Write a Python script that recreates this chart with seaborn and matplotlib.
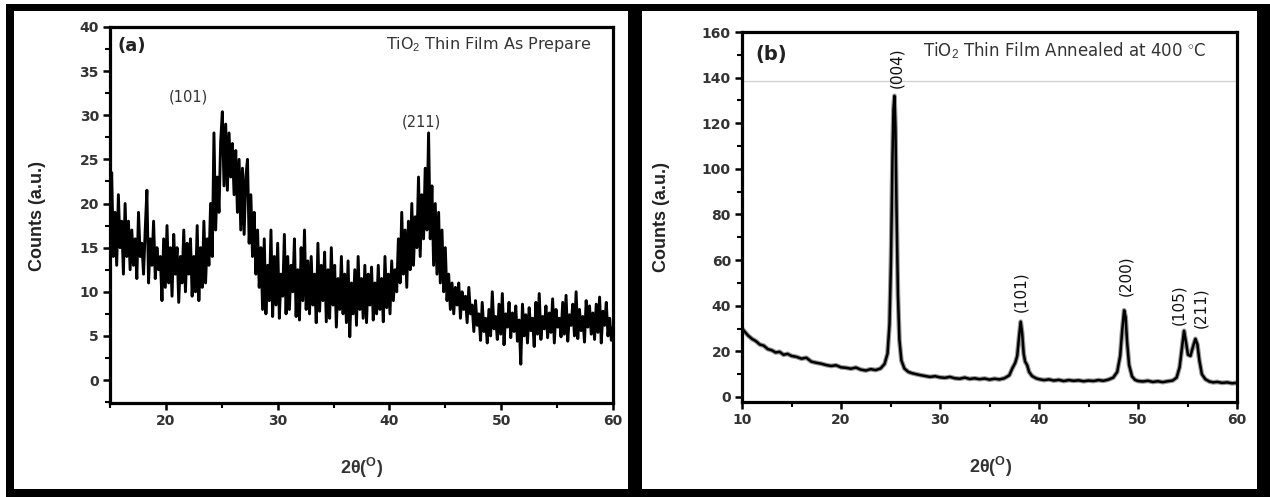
import numpy as np
import matplotlib
matplotlib.use("Agg")
import matplotlib.pyplot as plt
from matplotlib.patches import Rectangle
from matplotlib.ticker import MultipleLocator
import seaborn as sns

sns.set_theme(style="ticks")
plt.rcParams["font.family"] = ["Liberation Sans", "DejaVu Sans"]
plt.rcParams["mathtext.fontset"] = "custom"
plt.rcParams["mathtext.rm"] = "Liberation Sans"
plt.rcParams["mathtext.it"] = "Liberation Sans:italic"
plt.rcParams["mathtext.bf"] = "Liberation Sans:bold"

# ---------------- data: panel (a), as-prepared film (scan step 0.15 deg from 15 deg) ----------------
a_start, a_step = 15.0, 0.15
counts_a = [
    17, 23.5, 14, 19, 13, 21, 15, 18, 12, 20,
    14, 18, 12.5, 17, 13, 16, 11.5, 19, 14, 15.5,
    12, 17, 21.5, 11, 16, 13, 18, 11.5, 15, 12.5,
    14, 9, 16, 10.5, 17.5, 11, 15, 9.5, 16.5, 12,
    15, 8.8, 14, 11, 17, 10, 15.5, 12, 16, 9.5,
    14, 10, 17.5, 9, 15, 10.5, 18, 11, 16, 13,
    20, 14, 28, 17, 23, 19, 27, 30.4, 22, 29,
    21.5, 28, 23, 26.8, 21, 26, 19, 25, 17, 24,
    16.5, 23, 25, 15.5, 21, 14, 19, 12, 17, 10.5,
    15, 8, 16, 7.5, 13, 9, 17, 7.2, 14, 8.5,
    15.5, 7, 12, 9.5, 16.5, 7.5, 14, 8, 13, 10,
    16, 7.2, 12.5, 6.8, 15, 9, 17, 8, 13.5, 7.5,
    14, 8.5, 12, 6.5, 15.5, 7.8, 13, 9, 14.5, 6.6,
    12.5, 7, 15, 8.5, 13, 6, 11.5, 8, 14, 7.5,
    12, 6.5, 13.5, 4.9, 11, 7.5, 12.5, 6.2, 14, 8,
    11.5, 7, 13, 6.5, 12, 8.5, 12.8, 6.8, 11, 7.5,
    13, 8, 11.5, 6.6, 14, 8.2, 12, 7.5, 13.5, 9,
    12.5, 10, 16, 11, 19, 12, 17, 10.5, 18, 12.5,
    20, 13, 18.5, 15, 23, 14, 21, 16, 24, 17,
    28, 16, 22, 13, 20, 12, 19, 11, 17, 10,
    15, 9, 12, 8, 11, 7.5, 10.5, 8.5, 11, 7,
    10, 8, 9.5, 6.5, 10.5, 7.5, 8.5, 5.5, 9, 6.2,
    7.5, 4.5, 8.8, 5.5, 7, 4.2, 8, 5, 10, 5.8,
    7.2, 4.6, 8.6, 5.2, 9.8, 4, 7.5, 6, 8.8, 4.8,
    7.6, 5.5, 8.4, 4.4, 6.8, 1.8, 8.6, 5, 7.4, 4.2,
    8.2, 5.6, 7, 3.8, 8.8, 5.2, 9.8, 4.6, 7.2, 5.8,
    8.4, 4.8, 7.6, 5.4, 9.2, 4.2, 8, 6, 7, 4.9,
    8.8, 5.2, 9.6, 4.4, 7.4, 6.2, 8.6, 5, 10, 4.7,
    8, 5.6, 7.2, 4.3, 9, 6, 8.4, 5.2, 7.6, 4.6,
    8.6, 5.4, 9.4, 4.2, 7.8, 6.2, 8.8, 5, 7, 4.5,
    6,
]
two_theta_a = a_start + a_step * np.arange(len(counts_a))

# ---------------- data: panel (b), annealed film ----------------
two_theta_b = [
    10.0, 10.3, 10.6, 11.0, 11.4, 11.8, 12.2, 12.6, 13.0, 13.4,
    13.8, 14.2, 14.6, 15.0, 15.5, 16.0, 16.5, 17.0, 17.5, 18.0,
    18.5, 19.0, 19.5, 20.0, 20.5, 21.0, 21.5, 22.0, 22.5, 23.0,
    23.5, 24.0, 24.4, 24.7, 24.9, 25.05, 25.2, 25.3, 25.4, 25.5,
    25.6, 25.75, 25.9, 26.1, 26.4, 26.8, 27.2, 27.6, 28.0, 28.5,
    29.0, 29.5, 30.0, 30.5, 31.0, 31.5, 32.0, 32.5, 33.0, 33.5,
    34.0, 34.5, 35.0, 35.5, 36.0, 36.5, 37.0, 37.3, 37.6, 37.8,
    38.0, 38.15, 38.3, 38.45, 38.6, 38.8, 39.0, 39.3, 39.7, 40.0,
    40.5, 41.0, 41.5, 42.0, 42.5, 43.0, 43.5, 44.0, 44.5, 45.0,
    45.5, 46.0, 46.5, 47.0, 47.5, 47.9, 48.2, 48.4, 48.6, 48.75,
    48.9, 49.1, 49.4, 49.7, 50.0, 50.5, 51.0, 51.5, 52.0, 52.5,
    53.0, 53.5, 53.9, 54.2, 54.45, 54.65, 54.85, 55.05, 55.3, 55.55,
    55.8, 56.0, 56.2, 56.45, 56.8, 57.2, 57.6, 58.0, 58.5, 59.0,
    59.5, 60.0,
]
counts_b = [
    30, 28.5, 27, 25.5, 24.5, 23, 22.5, 21, 20.5, 19.5,
    19.8, 18.5, 18.9, 18, 17.6, 16.8, 17.2, 15.5, 15.0, 14.6,
    14.0, 13.6, 13.9, 13.0, 12.8, 12.4, 12.9, 12.0, 11.6, 12.2,
    11.8, 12.5, 14.5, 19, 32, 60, 105, 126, 132, 118,
    85, 45, 25, 16, 12.5, 11, 10.4, 10, 9.6, 9.2,
    8.8, 9.1, 8.6, 8.4, 8.8, 8.2, 8.0, 8.5, 7.9, 8.2,
    7.8, 8.1, 7.6, 8.0, 7.7, 8.2, 9.5, 12.5, 15, 18,
    27, 33, 28, 19, 15.5, 14, 11, 9.2, 8.2, 7.8,
    7.4, 7.7, 7.2, 7.5, 7.0, 7.4, 7.1, 7.3, 6.9, 7.2,
    7.0, 7.4, 7.1, 7.6, 8.5, 11, 18, 29, 38, 35,
    24, 14, 9, 7.5, 7.0, 6.8, 7.1, 6.6, 6.9, 6.5,
    6.9, 7.2, 8.5, 13, 22, 29, 24, 18.5, 18, 22,
    25.5, 23, 16, 10, 7.8, 6.8, 6.4, 6.6, 6.2, 6.4,
    6.0, 6.2,
]

# peak labels
labels_a = ["(101)", "(211)"]
labels_a_x = [22.05, 42.86]
labels_a_y = [32.1, 29.2]
labels_b = ["(004)", "(101)", "(200)", "(105)", "(211)"]
labels_b_x = [25.6, 38.2, 48.8, 54.15, 56.35]
labels_b_y = [144.5, 46, 53, 40.5, 39]

title_a = r"TiO$_{2}$ Thin Film As Prepare"
title_b = r"TiO$_{2}$ Thin Film Annealed at 400 $^{\circ}$C"

# ---------------- figure ----------------
W, H = 1270, 497
fig = plt.figure(figsize=(W / 100, H / 100), dpi=100, facecolor="black")

def fx(px):
    return px / W

def fy(py):
    return 1 - py / H

# white panels and outer white strips (behind the axes)
for (x0, y0, w, h) in [(fx(14), fy(489), fx(628 - 14), (489 - 11) / H),
                       (fx(642), fy(489), fx(1257 - 642), (489 - 11) / H),
                       (0, fy(4), 1, 4 / H),
                       (0, 0, fx(6), 1)]:
    fig.patches.append(Rectangle((x0, y0), w, h, transform=fig.transFigure,
                                 facecolor="white", edgecolor="none", zorder=-10))

ax_a = fig.add_axes([fx(110), fy(403), fx(613 - 110), (403 - 27) / H])
ax_b = fig.add_axes([fx(742), fy(402), fx(1237 - 742), (402 - 32) / H])
for ax in (ax_a, ax_b):
    ax.set_zorder(5)

# panel (a)
sns.lineplot(x=two_theta_a, y=counts_a, ax=ax_a, color="black", linewidth=2.1,
             estimator=None, sort=False)
ax_a.set_xlim(15, 60)
ax_a.set_ylim(-2.6, 40)
ax_a.xaxis.set_major_locator(MultipleLocator(10))
ax_a.xaxis.set_minor_locator(MultipleLocator(5))
ax_a.yaxis.set_major_locator(MultipleLocator(5))
ax_a.yaxis.set_minor_locator(MultipleLocator(2.5))
ax_a.set_xlabel("")
ax_a.set_ylabel("")

# panel (b)
sns.lineplot(x=two_theta_b, y=counts_b, ax=ax_b, color="#555555", linewidth=3.4,
             estimator=None, sort=False, alpha=0.6)
sns.lineplot(x=two_theta_b, y=counts_b, ax=ax_b, color="black", linewidth=1.8,
             estimator=None, sort=False)
ax_b.axhline(138.5, color="#cfcfcf", linewidth=0.9, zorder=0.5)
ax_b.set_xlim(10, 60)
ax_b.set_ylim(-2.2, 160)
ax_b.xaxis.set_major_locator(MultipleLocator(10))
ax_b.xaxis.set_minor_locator(MultipleLocator(5))
ax_b.yaxis.set_major_locator(MultipleLocator(20))
ax_b.yaxis.set_minor_locator(MultipleLocator(10))
ax_b.set_xlabel("")
ax_b.set_ylabel("")

for ax in (ax_a, ax_b):
    ax.set_facecolor("white")
    for s in ax.spines.values():
        s.set_visible(True)
        s.set_linewidth(2.3)
        s.set_color("black")
    ax.tick_params(which="major", length=5, width=1.8, pad=3, labelsize=10,
                   labelcolor="#333333", color="black", direction="out")
    ax.tick_params(which="minor", length=3.5, width=1.5, color="black", direction="out")
    for lab in ax.get_xticklabels() + ax.get_yticklabels():
        lab.set_fontweight("bold")
        lab.set_family("DejaVu Sans")

# texts panel (a)
ax_a.text(15.7, 37.8, "(a)", fontsize=13, fontweight="bold", color="#222222",
          ha="left", va="center", family="DejaVu Sans")
ax_a.text(58.0, 38.0, title_a, fontsize=11.5, color="#333333", ha="right", va="center",
          family="DejaVu Sans")
for t, x, y in zip(labels_a, labels_a_x, labels_a_y):
    ax_a.text(x, y, t, fontsize=10.5, color="#333333", ha="center", va="center",
              family="DejaVu Sans")

# texts panel (b)
ax_b.text(11.4, 150, "(b)", fontsize=14, fontweight="bold", color="#222222",
          ha="left", va="center", family="DejaVu Sans")
ax_b.text(28.3, 152, title_b, fontsize=12, color="#333333", ha="left", va="center",
          family="DejaVu Sans")
for t, x, y in zip(labels_b, labels_b_x, labels_b_y):
    ax_b.text(x, y, t, fontsize=11, color="#111111", ha="center", va="center",
              rotation=90, family="DejaVu Sans")

# axis labels
fig.text(fx(38), fy(216), "Counts (a.u.)", rotation=90, fontsize=13, fontweight="bold",
         color="#222222", ha="center", va="center")
fig.text(fx(662), fy(217), "Counts (a.u.)", rotation=90, fontsize=13, fontweight="bold",
         color="#222222", ha="center", va="center")
fig.text(fx(362), fy(468), r"2θ($^{\mathbf{O}}$)", fontsize=13, fontweight="bold",
         color="#333333", ha="center", va="center")
fig.text(fx(991), fy(467), r"2θ($^{\mathbf{O}}$)", fontsize=13, fontweight="bold",
         color="#333333", ha="center", va="center")

fig.savefig("out.png", dpi=100, facecolor=fig.get_facecolor())
